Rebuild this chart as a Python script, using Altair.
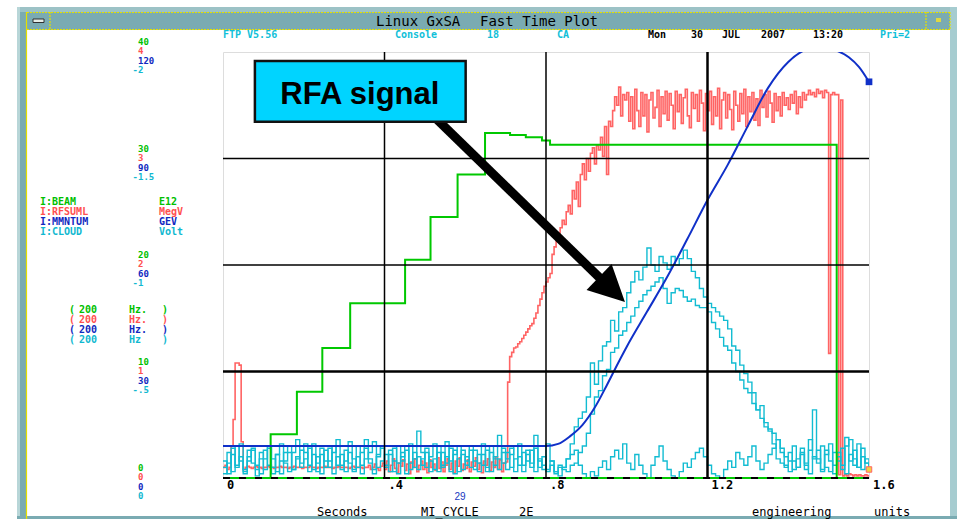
import altair as alt
import numpy as np
import pandas as pd

# Plot-area placement inside the 957x519 window
LEFT, TOP, W, H = 223, 52, 646, 426
RIGHT, BOTTOM = 957 - LEFT - W, 519 - TOP - H

MONO = "DejaVu Sans Mono"
GREEN = "#00C800"
RED = "#FF6464"
BLUE = "#1030C8"
CYAN = "#12BCD2"
HDR_CYAN = "#10C0D8"
FRAME = "#7AABB2"
YELLOW = "#E4E000"
LABEL_SIZE = 9
LABEL_PITCH = 5.4

# ---------------- channel data ----------------
# I:BEAM (E12), stepped intensity
beam_t = [0.0, 0.118, 0.183, 0.246, 0.315, 0.451, 0.514, 0.581, 0.649, 0.711, 0.75, 0.79, 0.81, 1.52, 1.60]
beam_e12 = [0.0, 4.1, 8.1, 12.2, 16.4, 20.5, 24.5, 28.5, 32.4, 32.2, 32.0, 31.7, 31.3, 0.0, 0.0]

# I:MMNTUM (GeV)
mom_t = [0.0, 0.80, 0.83, 0.86, 0.89, 0.92, 0.95, 0.98, 1.00, 1.05, 1.10, 1.15, 1.20, 1.25,
         1.30, 1.35, 1.40, 1.45, 1.475, 1.50, 1.55, 1.575, 1.60]
mom_gev = [9.0, 9.0, 9.6, 11.8, 14.9, 19.7, 26.0, 32.7, 37.0, 46.8, 56.6, 67.3, 78.3, 88.2,
           99.2, 109.9, 117.2, 120.9, 121.3, 121.0, 118.5, 115.8, 111.6]

# I:RFSUML (MegV), sampled every 5 ms from 0 to 1.6 s
red_mev = [
    .10, .12, .08, .10, .30, .55, 1.08, 1.08, 1.06, .34, .08, .10, .11, .10, .09, .10, .11, .10, .10, .09,
    .10, .10, .11, .10, .10, .09, .10, .10, .11, .10, .10, .10, .09, .10, .10, .11, .10, .10, .10, .09,
    .10, .10, .10, .11, .10, .10, .09, .10, .10, .10, .11, .10, .10, .10, .09, .10, .10, .11, .10, .10,
    .10, .10, .09, .10, .11, .10, .10, .10, .10, .09, .10, .10, .12, .08, .10, .13, .09, .07, .11, .14,
    .08, .16, .06, .12, .18, .09, .05, .14, .11, .17, .07, .13, .04, .15, .10, .18, .06, .12, .16, .08,
    .14, .05, .17, .10, .13, .07, .19, .09, .15, .06, .12, .18, .08, .14, .05, .16, .11, .19, .07, .13,
    .09, .17, .06, .15, .11, .19, .08, .14, .05, .16, .12, .18, .07, .15, .10, .20, .08, .17, .06, .14,
    .15, .90, 1.14, 1.18, 1.22, 1.23, 1.26, 1.28, 1.31, 1.34, 1.37, 1.40, 1.43, 1.45, 1.50, 1.55, 1.62, 1.68, 1.74, 1.80,
    1.84, 1.88, 1.92, 2.10, 2.17, 2.22, 2.30, 2.35, 2.42, 2.38, 2.50, 2.56, 2.48, 2.70, 2.62, 2.78, 2.55, 2.85, 2.95, 2.80,
    3.00, 2.88, 3.05, 3.10, 2.95, 3.12, 3.08, 3.20, 3.02, 3.30, 2.85, 3.35, 3.30, 3.45, 3.58, 3.50, 3.67, 3.40, 3.60, 3.55,
    3.62, 3.35, 3.58, 3.28, 3.65, 3.45, 3.30, 3.62, 3.40, 3.60, 3.25, 3.55, 3.62, 3.38, 3.48, 3.64, 3.30, 3.58, 3.42, 3.63,
    3.36, 3.61, 3.50, 3.28, 3.63, 3.44, 3.60, 3.33, 3.57, 3.65, 3.40, 3.29, 3.62, 3.47, 3.60, 3.35, 3.64, 3.52, 3.26, 3.61,
    3.45, 3.63, 3.32, 3.58, 3.40, 3.66, 3.28, 3.55, 3.62, 3.38, 3.60, 3.46, 3.27, 3.63, 3.50, 3.35, 3.61, 3.42, 3.65, 3.30,
    3.58, 3.44, 3.62, 3.36, 3.56, 3.31, 3.64, 3.48, 3.60, 3.39, 3.63, 3.52, 3.34, 3.61, 3.45, 3.58, 3.40, 3.62, 3.50, 3.57,
    3.46, 3.60, 3.52, 3.63, 3.42, 3.58, 3.48, 3.62, 3.55, 3.60, 3.64, 3.60, 3.62, 3.58, 3.65, 3.61, 3.63, 3.57, 3.64, 3.62,
    1.17, 3.60, 3.62, 3.60, 3.60, .03, 3.55, .02, .03, .02, .04, .03, .02, .03, .02, .03, .02, .02, .03, .02,
    .03,
]

# I:CLOUD (Volt), three overlaid traces sampled every 10 ms from 0 to 1.6 s
cloud_a = [
    -.05, -.12, -.03, -.15, -.08, -.02, -.10, -.14, -.04, -.09,
    -.13, -.06, -.02, -.11, -.16, -.07, -.03, -.12, -.18, -.05,
    -.09, -.14, -.04, -.10, -.02, -.13, -.08, -.15, -.06, -.11,
    -.03, -.17, -.09, -.05, -.12, -.18, -.07, -.02, -.10, -.14,
    -.06, -.11, -.03, -.15, -.08, -.13, -.04, -.09, -.22, -.12,
    -.05, -.10, -.16, -.03, -.12, -.07, -.14, -.02, -.09, -.13,
    -.08, -.15, -.04, -.11, -.06, -.13, -.03, -.10, -.20, -.07,
    -.12, -.05, -.09, -.16, -.03, -.11, -.07, -.14, -.05, -.10,
    -.04, -.08, -.03, -.06, -.05, -.09, -.16, -.24, -.28, -.31,
    -.38, -.54, -.44, -.55, -.62, -.64, -.74, -.69, -.78, -.80,
    -.87, -.92, -.97, -.93, -.99, -1.08, -1.00, -.97, -1.04, -1.01,
    -.98, -1.04, -1.00, -1.03, -1.07, -1.03, -.97, -.94, -.89, -.85,
    -.82, -.80, -.78, -.76, -.74, -.70, -.62, -.60, -.53, -.49,
    -.45, -.40, -.32, -.34, -.26, -.23, -.21, -.18, -.14, -.10,
    -.08, -.15, -.05, -.12, -.04, -.18, -.09, -.13, -.03, -.11,
    -.16, -.06, -.12, -.04, -.19, -.08, -.13, -.05, -.10, -.07,
    -.04,
]
cloud_b = [
    -.08, -.02, -.11, -.06, -.16, -.04, -.13, -.07, -.01, -.12,
    -.04, -.14, -.09, -.03, -.08, -.12, -.15, -.04, -.09, -.13,
    -.12, -.03, -.16, -.07, -.11, -.05, -.14, -.02, -.10, -.06,
    -.13, -.07, -.04, -.15, -.02, -.09, -.12, -.17, -.05, -.08,
    -.11, -.03, -.14, -.07, -.12, -.02, -.16, -.05, -.10, -.06,
    -.14, -.08, -.04, -.12, -.06, -.17, -.03, -.11, -.15, -.04,
    -.10, -.05, -.13, -.07, -.16, -.03, -.12, -.06, -.09, -.14,
    -.04, -.11, -.15, -.06, -.12, -.08, -.13, -.03, -.09, -.06,
    -.03, -.06, -.02, -.05, -.04, -.03, -.06, -.07, -.12, -.15,
    -.21, -.30, -.38, -.41, -.48, -.51, -.59, -.61, -.67, -.69,
    -.73, -.76, -.80, -.83, -.86, -.88, -.90, -.92, -.94, -.89,
    -.82, -.87, -.89, -.88, -.85, -.83, -.84, -.81, -.80, -.80,
    -.78, -.73, -.70, -.66, -.62, -.60, -.54, -.50, -.46, -.42,
    -.40, -.35, -.32, -.28, -.24, -.22, -.16, -.09, -.07, -.05,
    -.12, -.04, -.09, -.14, -.06, -.02, -.10, -.07, -.15, -.05,
    -.03, -.12, -.08, -.14, -.02, -.11, -.06, -.16, -.04, -.09,
    -.06,
]
cloud_c = [
    -.02, -.07, -.14, -.05, -.10, -.03, -.08, -.13, -.06, -.02,
    -.09, -.15, -.05, -.11, -.02, -.08, -.12, -.04, -.10, -.07,
    -.16, -.06, -.11, -.03, -.14, -.08, -.05, -.12, -.18, -.04,
    -.08, -.12, -.03, -.10, -.06, -.14, -.09, -.04, -.11, -.15,
    -.05, -.13, -.08, -.02, -.10, -.15, -.07, -.12, -.04, -.09,
    -.12, -.03, -.09, -.15, -.05, -.10, -.08, -.13, -.03, -.11,
    -.06, -.13, -.08, -.03, -.11, -.05, -.15, -.09, -.04, -.12,
    -.09, -.14, -.03, -.10, -.06, -.13, -.05, -.20, -.08, -.04,
    -.16, -.08, -.03, -.01, -.05, -.09, -.11, -.13, -.06, -.02,
    0, -.03, -.01, -.05, -.08, -.04, -.10, -.13, -.09, -.16,
    -.07, -.04, -.11, -.06, -.02, 0, -.06, -.10, -.15, -.08,
    -.04, -.01, 0, -.03, -.07, -.05, -.09, -.12, -.14, -.10,
    -.06, -.02, -.01, 0, -.04, -.08, -.05, -.12, -.09, -.06,
    -.10, -.15, -.08, -.04, -.07, -.11, -.14, -.18, -.12, -.06,
    -.03, -.08, -.05, -.11, -.07, -.13, -.32, -.09, -.04, -.13,
    -.08, -.02, -.10, -.06, -.15, -.18, -.09, -.05, -.14, -.07,
    -.03,
]

# Axis ticks / labels for each channel (stacked at the left of the plot)
beam_ticks, beam_labels = [0, 10, 20, 30, 40], ["0", "10", "20", "30", "40"]
rf_ticks, rf_labels = [0, 1, 2, 3, 4], ["0", "1", "2", "3", "4"]
mom_ticks, mom_labels = [0, 30, 60, 90, 120], ["0", "30", "60", "90", "120"]
cloud_ticks, cloud_labels = [0, -0.5, -1, -1.5, -2], ["0", "-.5", "-1", "-1.5", "-2"]
time_ticks, time_labels = [0, 0.4, 0.8, 1.2, 1.6], ["0", ".4", ".8", "1.2", "1.6"]

# Annotation anchors in seconds / beam units
callout = {"t0": 0.079, "t1": 0.601, "v0": 33.46, "v1": 39.15, "tx": 0.339, "vx": 35.15}
arrow = {"t0": 0.513, "v0": 34.3, "t1": 0.941, "v1": 18.5, "th": 0.9635, "vh": 17.7}

# ---------------- scales ----------------
T_RED = np.round(np.arange(len(red_mev)) * 0.005, 3)
T_CLOUD = np.round(np.arange(len(cloud_a)) * 0.01, 3)

XS = alt.Scale(domain=[0, 1.6], nice=False, zero=False)
YG = alt.Scale(domain=[0, 40], nice=False, zero=False)
YR = alt.Scale(domain=[0, 4], nice=False, zero=False)
YB = alt.Scale(domain=[0, 120], nice=False, zero=False)
YC = alt.Scale(domain=[0, -2], nice=False, zero=False)

ONE = pd.DataFrame({"k": [0]})


def X(field):
    return alt.X(field, type="quantitative", scale=XS, axis=None)


def Y(field, scale):
    return alt.Y(field, type="quantitative", scale=scale, axis=None)


def text(s, px, py, color="black", size=12, weight="normal", font=MONO, align="left", baseline="middle"):
    return alt.Chart(ONE).mark_text(
        text=s, color=color, fontSize=size, fontWeight=weight, font=font, align=align, baseline=baseline
    ).encode(x=alt.value(px - LEFT), y=alt.value(py - TOP))


def box(x0, y0, x1, y1, fill):
    return alt.Chart(ONE).mark_rect(fill=fill).encode(
        x=alt.value(x0 - LEFT), x2=alt.value(x1 - LEFT), y=alt.value(y0 - TOP), y2=alt.value(y1 - TOP)
    )


def hline(x0, x1, y, color, w=1.0, dash=None):
    kw = dict(color=color, strokeWidth=w)
    if dash:
        kw["strokeDash"] = dash
    return alt.Chart(ONE).mark_rule(**kw).encode(
        x=alt.value(x0 - LEFT), x2=alt.value(x1 - LEFT), y=alt.value(y - TOP)
    )


def vline(x, y0, y1, color, w=1.0, dash=None):
    kw = dict(color=color, strokeWidth=w)
    if dash:
        kw["strokeDash"] = dash
    return alt.Chart(ONE).mark_rule(**kw).encode(
        x=alt.value(x - LEFT), y=alt.value(y0 - TOP), y2=alt.value(y1 - TOP)
    )


layers = []

# ---------------- window chrome ----------------
layers += [
    box(17, 7, 950, 30, FRAME),
    box(17, 7, 950, 12, "#9CC2C6"),
    box(17, 7, 20, 519, "#B8D6D8"),
    box(20, 12, 26, 519, FRAME),
    box(950, 7, 957, 519, "#A6CCD0"),
    box(17, 516, 957, 519, FRAME),
    hline(27, 950, 12.5, YELLOW, 1.2, [2, 1]),
    hline(27, 950, 29.5, YELLOW, 1.2, [2, 1]),
    vline(26.5, 12, 519, YELLOW, 1.2),
    vline(50, 12, 30, YELLOW, 1.2, [2, 1]),
    vline(926, 12, 30, YELLOW, 1.2, [2, 1]),
    vline(950, 12, 30, YELLOW, 1.2, [2, 1]),
    alt.Chart(ONE).mark_rect(fill="#E8EEE8", stroke="#303030", strokeWidth=1).encode(
        x=alt.value(33 - LEFT), x2=alt.value(44 - LEFT), y=alt.value(19 - TOP), y2=alt.value(22.5 - TOP)),
    box(936, 18, 941, 22, "#E0D840"),
    text("Linux GxSA", 376, 25.5, size=14, baseline="alphabetic"),
    text("Fast Time Plot", 480, 25.5, size=14, baseline="alphabetic"),
]

# status line under the title bar
for s, px, col in [("FTP V5.56", 223, HDR_CYAN), ("Console", 395, HDR_CYAN), ("18", 487, HDR_CYAN),
                   ("CA", 557, HDR_CYAN), ("Mon", 648, "black"), ("30", 691, "black"), ("JUL", 722, "black"),
                   ("2007", 761, "black"), ("13:20", 813, "black"), ("Pri=2", 880, HDR_CYAN)]:
    layers.append(text(s, px, 38, color=col, size=10, weight="bold", baseline="alphabetic"))

# ---------------- traces ----------------
red_df = pd.DataFrame({"t": T_RED, "mev": red_mev})
cloud_df = pd.DataFrame({"t": T_CLOUD, "a": cloud_a, "b": cloud_b, "c": cloud_c})
beam_df = pd.DataFrame({"t": beam_t, "e12": beam_e12})
mom_df = pd.DataFrame({"t": mom_t, "gev": mom_gev})

layers.append(alt.Chart(red_df).mark_line(color=RED, strokeWidth=1.6, interpolate="step-after", clip=True)
              .encode(x=X("t"), y=Y("mev", YR)))
for col in ["c", "b", "a"]:
    layers.append(alt.Chart(cloud_df).mark_line(color=CYAN, strokeWidth=1.4, interpolate="step-after", clip=True)
                  .encode(x=X("t"), y=Y(col, YC)))
layers.append(alt.Chart(beam_df).mark_line(color=GREEN, strokeWidth=2, interpolate="step-after", clip=True)
              .encode(x=X("t"), y=Y("e12", YG)))
layers.append(alt.Chart(mom_df).mark_line(color=BLUE, strokeWidth=2, interpolate="monotone", clip=True)
              .encode(x=X("t"), y=Y("gev", YB)))
layers.append(alt.Chart(mom_df.tail(1)).mark_square(color=BLUE, size=45, opacity=1)
              .encode(x=X("t"), y=Y("gev", YB)))
layers.append(alt.Chart(cloud_df.tail(1)).mark_square(fill="#F2CF40", stroke=RED, strokeWidth=1, size=30, opacity=1)
              .encode(x=X("t"), y=Y("a", YC)))

# ---------------- grid ----------------
grid_thin_t = pd.DataFrame({"t": [0.4, 0.8]})
grid_thick_t = pd.DataFrame({"t": [1.2]})
grid_thin_v = pd.DataFrame({"v": [20, 30]})
grid_thick_v = pd.DataFrame({"v": [10]})
layers += [
    alt.Chart(grid_thin_t).mark_rule(color="black", strokeWidth=1.5).encode(x=X("t")),
    alt.Chart(grid_thick_t).mark_rule(color="black", strokeWidth=2.5).encode(x=X("t")),
    alt.Chart(grid_thin_v).mark_rule(color="black", strokeWidth=1.5).encode(y=Y("v", YG)),
    alt.Chart(grid_thick_v).mark_rule(color="black", strokeWidth=2.5).encode(y=Y("v", YG)),
]
zero_df = pd.DataFrame({"t": [0.0], "t2": [1.6], "v": [0.0]})
layers += [
    alt.Chart(zero_df).mark_rule(color=GREEN, strokeWidth=2).encode(x=X("t"), x2="t2", y=Y("v", YG)),
    alt.Chart(zero_df).mark_rule(color="black", strokeWidth=2, strokeDash=[7, 9])
    .encode(x=X("t"), x2="t2", y=Y("v", YG)),
]


# ---------------- stacked channel scales ----------------
def axis_labels(values, labels, scale, color, dy):
    df = pd.DataFrame({"v": values, "lab": labels})
    base = alt.Chart(df).mark_text(font=MONO, fontSize=LABEL_SIZE, fontWeight="bold", color=color,
                                   align="left", baseline="middle", dy=dy)
    pos = base.transform_filter("indexof(datum.lab, '-') != 0").encode(
        x=alt.value(138 - LEFT), y=Y("v", scale), text="lab:N")
    neg = base.transform_filter("indexof(datum.lab, '-') == 0").encode(
        x=alt.value(138 - LABEL_PITCH - LEFT), y=Y("v", scale), text="lab:N")
    return [pos, neg]


layers += axis_labels(beam_ticks, beam_labels, YG, "#00C000", -10)
layers += axis_labels(rf_ticks, rf_labels, YR, "#FF5050", -1)
layers += axis_labels(mom_ticks, mom_labels, YB, "#1028C0", 9)
layers += axis_labels(cloud_ticks, cloud_labels, YC, "#10B8D0", 18)

time_df = pd.DataFrame({"t": time_ticks, "lab": time_labels})
layers.append(alt.Chart(time_df).mark_text(font=MONO, fontSize=12, fontWeight="bold", color="black",
                                           align="left", baseline="middle", dx=4)
              .encode(x=X("t"), y=alt.value(H + 6.5), text="lab:N"))

# ---------------- channel legend ----------------
for (name, unit, col, py) in [("I:BEAM", "E12", "#00C000", 201.5), ("I:RFSUML", "MegV", "#FF5050", 211.5),
                              ("I:MMNTUM", "GEV", "#1028C0", 221.5), ("I:CLOUD", "Volt", "#10B8D0", 231.5)]:
    layers.append(text(name, 40, py, color=col, size=LABEL_SIZE + 1, weight="bold"))
    layers.append(text(unit, 159, py, color=col, size=LABEL_SIZE + 1, weight="bold"))

for (hz, col, py) in [("Hz.", "#00C000", 310), ("Hz.", "#FF5050", 320),
                      ("Hz.", "#1028C0", 330), ("Hz", "#10B8D0", 340)]:
    layers.append(text("(", 69, py, color=col, size=LABEL_SIZE + 1, weight="bold"))
    layers.append(text("200", 79, py, color=col, size=LABEL_SIZE + 1, weight="bold"))
    layers.append(text(hz, 129, py, color=col, size=LABEL_SIZE + 1, weight="bold"))
    layers.append(text(")", 162, py, color=col, size=LABEL_SIZE + 1, weight="bold"))

layers += [
    text("29", 460, 497, color="#1838C0", size=10, font="Liberation Sans", align="center"),
    text("Seconds", 317, 511.5, size=12),
    text("MI_CYCLE", 421, 511.5, size=12),
    text("2E", 519, 511.5, size=12),
    text("engineering", 752, 511.5, size=12),
    text("units", 874, 511.5, size=12),
]

# ---------------- RFA callout ----------------
cal_df = pd.DataFrame([callout])
arr_df = pd.DataFrame([arrow])
layers += [
    alt.Chart(arr_df).mark_rule(color="black", strokeWidth=9, strokeCap="butt")
    .encode(x=X("t0"), x2="t1", y=Y("v0", YG), y2="v1"),
    alt.Chart(cal_df).mark_rect(fill="#00D4FF", stroke="#111111", strokeWidth=2.5)
    .encode(x=X("t0"), x2="t1", y=Y("v0", YG), y2="v1"),
    alt.Chart(cal_df).mark_text(text="RFA signal", font="Liberation Sans", fontWeight="bold", fontSize=31,
                                color="black", align="center", baseline="alphabetic")
    .encode(x=X("tx"), y=Y("vx", YG)),
    alt.Chart(arr_df).mark_point(shape="M0,-1L1,1L-1,1Z", filled=True, size=1296, angle=134,
                                 color="black", opacity=1)
    .encode(x=X("th"), y=Y("vh", YG)),
]

chart = (
    alt.layer(*layers)
    .resolve_scale(y="independent")
    .properties(width=W, height=H, autosize="none",
                padding={"left": LEFT, "top": TOP, "right": RIGHT, "bottom": BOTTOM})
    .configure_view(stroke="black", strokeWidth=2)
    .configure(background="white")
)

chart.save("out.html", embed_options={"renderer": "svg", "actions": False})
